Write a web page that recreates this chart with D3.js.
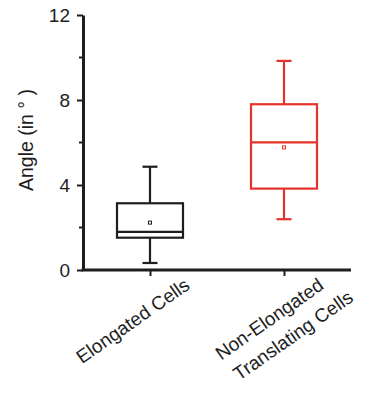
<!DOCTYPE html>
<html>
<head>
<meta charset="utf-8">
<script src="https://cdn.jsdelivr.net/npm/d3@7"></script>
<style>
  body { margin: 0; background: #fff; }
  svg text { font-family: "Liberation Sans", Arial, sans-serif; fill: #1e1e1e; }
</style>
</head>
<body>
<div id="chart"></div>
<script>
// box plot values (degrees)
const categories = ["Elongated Cells", "Non-Elongated Translating Cells"];
const labelLines = [["Elongated Cells"], ["Non-Elongated", "Translating Cells"]];
const whiskerLow = [0.33, 2.39];
const q1 = [1.52, 3.83];
const median = [1.79, 6.01];
const q3 = [3.14, 7.80];
const whiskerHigh = [4.86, 9.84];
const means = [2.23, 5.77];
const boxColors = ["#1e1e1e", "#e5322a"];
const yTicks = [0, 4, 8, 12];
const yMinorTicks = [2, 6, 10];

const width = 366, height = 395;
const margin = {left: 83, right: 351, top: 15, bottom: 270};

const svg = d3.select("#chart")
  .append("svg")
    .attr("width", width)
    .attr("height", height);

const x = d3.scalePoint()
  .domain(categories)
  .range([margin.left, margin.right])
  .padding(0.5);

const y = d3.scaleLinear()
  .domain([0, 12])
  .range([margin.bottom, margin.top]);

const boxes = categories.map((c, i) => ({
  cat: c, lo: whiskerLow[i], q1: q1[i], med: median[i], q3: q3[i],
  hi: whiskerHigh[i], mean: means[i], color: boxColors[i]
}));

const boxW = 66, capW = 15;

const g = svg.append("g").selectAll("g")
  .data(boxes)
  .join("g")
    .attr("stroke", d => d.color)
    .attr("fill", "none");

// whiskers
g.append("line")
  .attr("x1", d => x(d.cat)).attr("x2", d => x(d.cat))
  .attr("y1", d => y(d.hi)).attr("y2", d => y(d.q3))
  .attr("stroke-width", 2.2);
g.append("line")
  .attr("x1", d => x(d.cat)).attr("x2", d => x(d.cat))
  .attr("y1", d => y(d.q1)).attr("y2", d => y(d.lo))
  .attr("stroke-width", 2.2);
g.append("line")
  .attr("x1", d => x(d.cat) - capW / 2).attr("x2", d => x(d.cat) + capW / 2)
  .attr("y1", d => y(d.hi)).attr("y2", d => y(d.hi))
  .attr("stroke-width", 2.2);
g.append("line")
  .attr("x1", d => x(d.cat) - capW / 2).attr("x2", d => x(d.cat) + capW / 2)
  .attr("y1", d => y(d.lo)).attr("y2", d => y(d.lo))
  .attr("stroke-width", 2.2);

// box + median
g.append("rect")
  .attr("x", d => x(d.cat) - boxW / 2)
  .attr("y", d => y(d.q3))
  .attr("width", boxW)
  .attr("height", d => y(d.q1) - y(d.q3))
  .attr("stroke-width", 2.2);
g.append("line")
  .attr("x1", d => x(d.cat) - boxW / 2).attr("x2", d => x(d.cat) + boxW / 2)
  .attr("y1", d => y(d.med)).attr("y2", d => y(d.med))
  .attr("stroke-width", 2.2);

// mean marker
g.append("rect")
  .attr("x", d => x(d.cat) - 1.5)
  .attr("y", d => y(d.mean) - 1.5)
  .attr("width", 3).attr("height", 3)
  .attr("stroke-width", 1);

// axes
const yAxis = svg.append("g")
  .attr("transform", `translate(${margin.left},0)`)
  .call(d3.axisLeft(y).tickValues(yTicks).tickFormat(d3.format("d")).tickSize(6).tickSizeOuter(0))
  .call(a => a.select(".domain").attr("stroke-width", 3).attr("stroke", "#1e1e1e"));
yAxis.selectAll(".tick line").attr("stroke-width", 2).attr("stroke", "#1e1e1e");
yAxis.selectAll(".tick text")
  .attr("x", -13)
  .style("font-size", "19px")
  .style("font-family", "'Liberation Sans', Arial, sans-serif")
  .attr("fill", "#1e1e1e");

svg.append("g")
  .attr("transform", `translate(${margin.left},0)`)
  .selectAll("line")
  .data(yMinorTicks)
  .join("line")
    .attr("x1", -4).attr("x2", 0)
    .attr("y1", d => y(d)).attr("y2", d => y(d))
    .attr("stroke", "#1e1e1e").attr("stroke-width", 2);

const xAxis = svg.append("g")
  .attr("transform", `translate(0,${margin.bottom})`)
  .call(d3.axisBottom(x).tickSize(6).tickSizeOuter(0).tickFormat(""))
  .call(a => a.select(".domain").attr("stroke-width", 3).attr("stroke", "#1e1e1e")
    .attr("d", `M${margin.left - 1.5},0H${margin.right}`));
xAxis.selectAll(".tick line").attr("stroke-width", 2).attr("stroke", "#1e1e1e");

// rotated category labels (lines left-aligned, first line ends near the tick)
categories.forEach((c, i) => {
  const lg = svg.append("g")
    .attr("transform", `translate(${x(c) + 41},288) rotate(-35)`);
  const first = lg.append("text")
    .attr("text-anchor", "end")
    .style("font-size", "19px")
    .text(labelLines[i][0]);
  const w1 = first.node().getComputedTextLength();
  labelLines[i].slice(1).forEach((line, j) => {
    lg.append("text")
      .attr("x", -w1 + 3)
      .attr("y", 27 * (j + 1))
      .style("font-size", "19px")
      .text(line);
  });
});

// y axis title
svg.append("text")
  .attr("transform", "translate(33,140) rotate(-90)")
  .attr("text-anchor", "middle")
  .style("font-size", "19.5px")
  .text("Angle (in ° )");
</script>
</body>
</html>
